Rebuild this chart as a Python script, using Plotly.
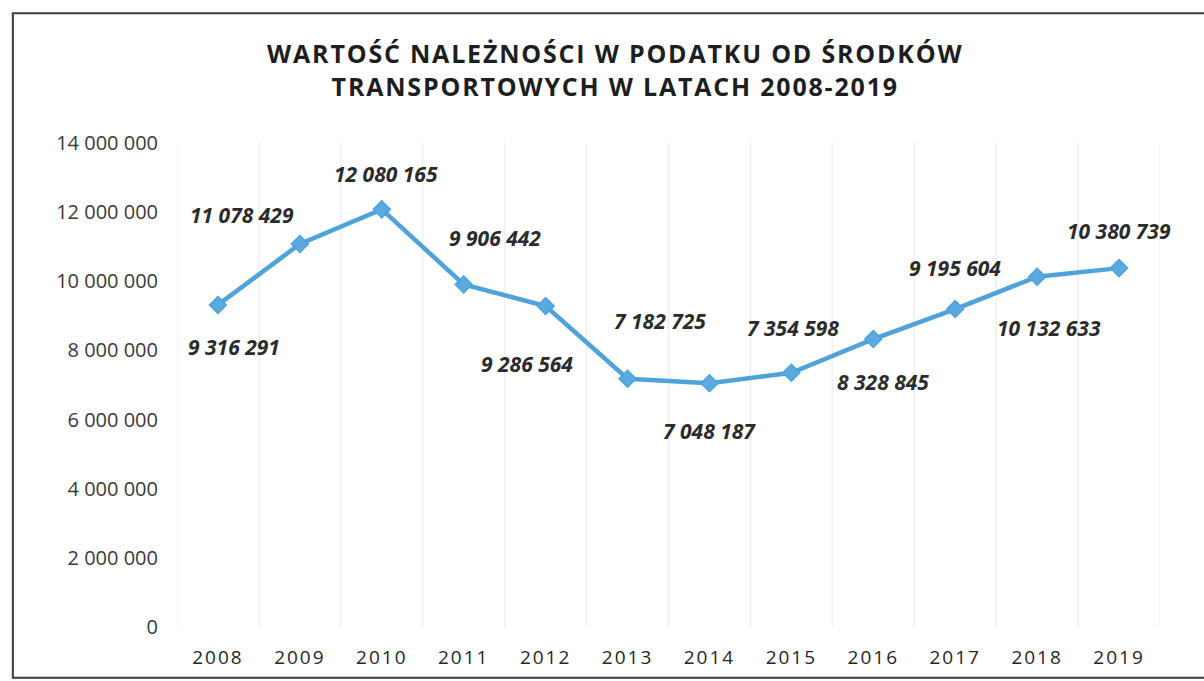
import plotly.graph_objects as go

years = ["2008", "2009", "2010", "2011", "2012", "2013", "2014", "2015", "2016", "2017", "2018", "2019"]
values = [9316291, 11078429, 12080165, 9906442, 9286564, 7182725, 7048187, 7354598, 8328845, 9195604, 10132633, 10380739]
y_ticks = [0, 2000000, 4000000, 6000000, 8000000, 10000000, 12000000, 14000000]

title_text = "WARTOŚĆ NALEŻNOŚCI W PODATKU OD ŚRODKÓW<br>TRANSPORTOWYCH W LATACH 2008-2019"

# pixel offsets of the data labels relative to their points (style only)
label_dx = [16, -58, 4, 31, -19, 32, 0, 2, 10, 0, 12, 0]
label_dy = [-42, 29, 35, 47, -58, 58, -48, 45, -43, 41, -51, 37]

line_color = "#4FA3DB"
font_family = "Open Sans, Noto Sans, sans-serif"

fig = go.Figure()
fig.add_trace(go.Scatter(
    x=years, y=values, mode="lines+markers",
    line=dict(color=line_color, width=4.5),
    marker=dict(symbol="diamond", size=13, color="#5AAAE0",
                line=dict(color=line_color, width=1.5)),
    hoverinfo="x+y", showlegend=False,
))

for i, (v, dx, dy) in enumerate(zip(values, label_dx, label_dy)):
    fig.add_annotation(
        x=i, y=v, xref="x", yref="y",
        text=f"<b><i>{v:,}</i></b>".replace(",", " "),
        showarrow=False, xshift=dx, yshift=dy,
        font=dict(family=font_family, size=21, color="#2b2b2b"),
    )

fig.update_layout(
    width=1204, height=681,
    paper_bgcolor="white", plot_bgcolor="white",
    margin=dict(l=177, r=44, t=143, b=54),
    separators=", ",
    title=dict(
        text=title_text, x=0.511, xanchor="center", y=0.907, yanchor="top",
        font=dict(family=font_family, size=25, color="#1e1e1e", weight="bold"),
    ),
    xaxis=dict(
        type="category", range=[-0.5, 11.5],
        showgrid=False, showline=False, zeroline=False, ticks="",
        tickfont=dict(family=font_family, size=19, color="#262626"),
        ticklabelstandoff=17,
    ),
    yaxis=dict(
        range=[0, 14000000], tickvals=y_ticks, tickformat=",d",
        showgrid=False, zeroline=False, showline=False, ticks="",
        tickfont=dict(family=font_family, size=20, color="#3a3a3a"),
        ticklabelstandoff=18,
    ),
)

# faint vertical gridlines at category boundaries
for i in range(13):
    fig.add_shape(type="line", xref="x", yref="paper",
                  x0=i - 0.5, x1=i - 0.5, y0=0, y1=1,
                  line=dict(color="#efefef", width=1.5), layer="below")

# outer frame of the chart
fig.add_shape(type="rect", xref="paper", yref="paper",
              x0=-0.167, x1=1.06, y0=-0.105, y1=1.268,
              line=dict(color="#3c3c3c", width=2), fillcolor="rgba(0,0,0,0)")

post = """
document.body.style.margin = '0';
document.querySelectorAll('.gtitle').forEach(function(e){ e.style.letterSpacing = '1.8px'; });
document.querySelectorAll('.xtick text').forEach(function(e){ e.style.letterSpacing = '2px'; });
"""

fig.write_html("out.html", post_script=post, config={"displayModeBar": False})
